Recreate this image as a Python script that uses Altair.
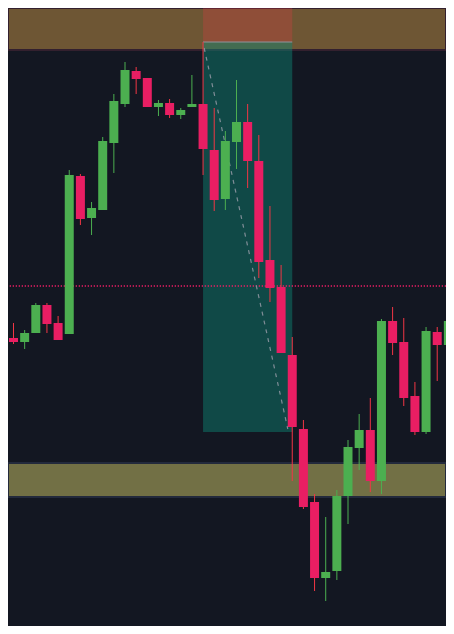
import altair as alt
import pandas as pd

# Candles (index, OHLC)
idx = list(range(41))
opens = [1.0951, 1.0948, 1.0944, 1.0953, 1.0981, 1.0963, 1.0952, 1.1110, 1.1068, 1.1076,
         1.1143, 1.1182, 1.1215, 1.1208, 1.1179, 1.1183, 1.1171, 1.1179, 1.1182, 1.1136,
         1.1087, 1.1144, 1.1164, 1.1125, 1.1026, 1.0999, 1.0931, 1.0857, 1.0784, 1.0708,
         1.0715, 1.0790, 1.0838, 1.0856, 1.0805, 1.0965, 1.0944, 1.0890, 1.0854, 1.0954,
         1.0941]
highs = [1.0951, 1.0963, 1.0956, 1.0983, 1.0983, 1.0970, 1.1116, 1.1112, 1.1084, 1.1149,
         1.1192, 1.1224, 1.1219, 1.1208, 1.1186, 1.1187, 1.1178, 1.1211, 1.1244, 1.1178,
         1.1155, 1.1206, 1.1182, 1.1151, 1.1080, 1.1021, 1.0949, 1.0866, 1.0792, 1.0769,
         1.0796, 1.0846, 1.0872, 1.0888, 1.0967, 1.0979, 1.0968, 1.0904, 1.0959, 1.0959,
         1.0976]
lows = [1.0946, 1.0942, 1.0937, 1.0953, 1.0953, 1.0946, 1.0952, 1.1061, 1.1051, 1.1076,
        1.1113, 1.1179, 1.1192, 1.1179, 1.1170, 1.1168, 1.1167, 1.1179, 1.1111, 1.1075,
        1.1076, 1.1117, 1.1098, 1.1008, 1.0984, 1.0933, 1.0805, 1.0777, 1.0695, 1.0685,
        1.0706, 1.0762, 1.0816, 1.0794, 1.0792, 1.0931, 1.0880, 1.0851, 1.0852, 1.0905,
        1.0928]
closes = [1.0946, 1.0944, 1.0953, 1.0981, 1.0962, 1.0946, 1.1111, 1.1067, 1.1078, 1.1145,
          1.1185, 1.1216, 1.1207, 1.1179, 1.1183, 1.1171, 1.1176, 1.1182, 1.1137, 1.1086,
          1.1145, 1.1164, 1.1125, 1.1024, 1.0998, 1.0933, 1.0859, 1.0779, 1.0708, 1.0714,
          1.0790, 1.0839, 1.0856, 1.0805, 1.0965, 1.0943, 1.0888, 1.0854, 1.0955, 1.0941,
          1.0965]

# Zones
supply_zone = [1.1278, 1.1236]
demand_zone = [1.0823, 1.0789]
level_line = [1.1000]
pos_x = [18, 26]
stop_zone = [1.1279, 1.1244]
target_zone = [1.1244, 1.0854]
entry_price = [1.1244]
path_x = [18.1, 25.6]
path_y = [1.1238, 1.0857]

df = pd.DataFrame({"i": idx, "open": opens, "high": highs, "low": lows, "close": closes})
df["dir"] = ["up" if c >= o else "down" for o, c in zip(opens, closes)]

xs = alt.Scale(domain=[0.955, 39.34], nice=False, zero=False)
ys = alt.Scale(domain=[1.0660, 1.1278], nice=False, zero=False)

def X(f):
    return alt.X(f, type="quantitative", scale=xs, axis=None)

def Y(f):
    return alt.Y(f, type="quantitative", scale=ys, axis=None)

bands = pd.DataFrame({
    "y": [supply_zone[0], demand_zone[0]],
    "y2": [supply_zone[1], demand_zone[1]],
    "kind": ["supply", "demand"],
})
band_layer = alt.Chart(bands).mark_rect(strokeWidth=2, clip=True).encode(
    y=Y("y"), y2="y2",
    fill=alt.Fill("kind:N", scale=alt.Scale(domain=["supply", "demand"], range=["#6e5634", "#727045"]), legend=None),
    stroke=alt.Stroke("kind:N", scale=alt.Scale(domain=["supply", "demand"], range=["#33202e", "#232a3c"]), legend=None),
)

pos = pd.DataFrame({"x": [pos_x[0]], "x2": [pos_x[1]],
                    "sy": [stop_zone[0]], "sy2": [stop_zone[1]],
                    "ty": [target_zone[0]], "ty2": [target_zone[1]],
                    "e": entry_price})
stop_layer = alt.Chart(pos).mark_rect(color="#f23645", opacity=0.25, clip=True).encode(
    x=X("x"), x2="x2", y=Y("sy"), y2="sy2")
target_layer = alt.Chart(pos).mark_rect(color="#0e8876", opacity=0.45, clip=True).encode(
    x=X("x"), x2="x2", y=Y("ty"), y2="ty2")
entry_layer = alt.Chart(pos).mark_rule(color="#8f939c", strokeWidth=1, clip=True).encode(
    x=X("x"), x2="x2", y=Y("e"))

lvl = pd.DataFrame({"y": level_line})
level_layer = alt.Chart(lvl).mark_rule(color="#e91e63", strokeWidth=1.3, strokeDash=[1.3, 1.7], clip=True).encode(
    y=Y("y"))

path = pd.DataFrame({"x": path_x, "y": path_y})
path_layer = alt.Chart(path).mark_line(color="#8c95a0", opacity=0.9, strokeWidth=1.2, strokeDash=[4, 5], clip=True).encode(
    x=X("x"), y=Y("y"))

wick_layer = alt.Chart(df).mark_rule(strokeWidth=1, clip=True).encode(
    x=X("i"), y=Y("low"), y2="high",
    color=alt.Color("dir:N", scale=alt.Scale(domain=["up", "down"], range=["#4caf50", "#f23645"]), legend=None),
)
body_layer = alt.Chart(df).mark_bar(size=9, clip=True).encode(
    x=X("i"), y=Y("open"), y2="close",
    color=alt.Color("dir:N", scale=alt.Scale(domain=["up", "down"], range=["#4caf50", "#e91e63"]), legend=None),
)

chart = alt.layer(
    band_layer, stop_layer, target_layer, entry_layer, level_layer, path_layer, wick_layer, body_layer
).resolve_scale(color="independent").properties(
    width=438, height=618, padding=0, autosize=alt.AutoSizeParams(type="none"),
    background="#131722",
).configure_view(stroke=None)

chart.save("out.html", embed_options={"renderer": "svg", "actions": False})
